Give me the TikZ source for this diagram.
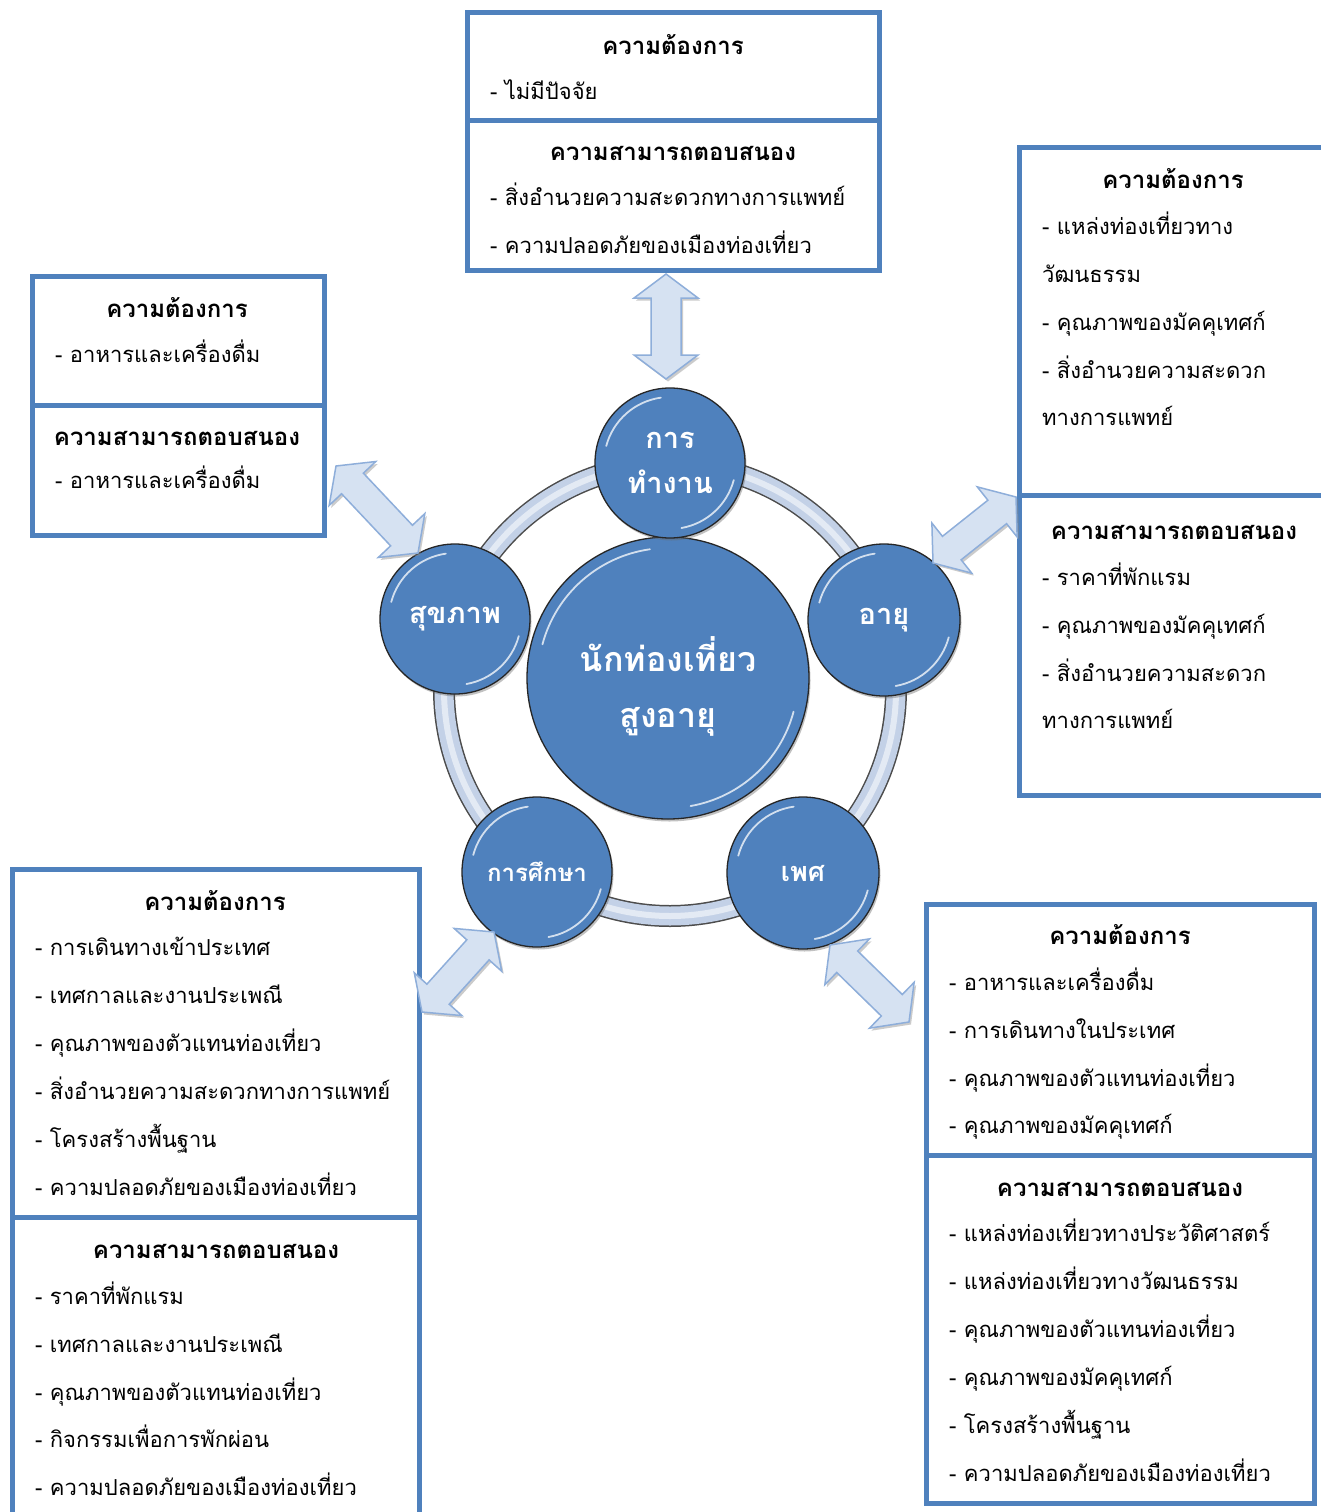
\documentclass[tikz,border=0pt]{standalone}
\usepackage{fontspec}
\newfontfamily\thaifont[Script=Thai]{Loma}
\usetikzlibrary{calc}
\definecolor{boxblue}{HTML}{4F81BD}
\definecolor{circblue}{HTML}{4F81BD}
\definecolor{arrowfill}{HTML}{D6E2F2}
\definecolor{arrowedge}{HTML}{8EAEDA}
\definecolor{ringfill}{HTML}{C3D1E7}
\newcommand\ahl{24pt}
\newcommand\ahw{32pt}
\newcommand\asw{15pt}
\newcommand\dblarrow[2]{%
  \coordinate (#1p) at ($(#1)!\ahl!(#2)$);
  \coordinate (#2p) at ($(#2)!\ahl!(#1)$);
  \draw[blockarrow] (#1)
    -- ($(#1p)!\ahw!90:(#2)$) -- ($(#1p)!\asw!90:(#2)$)
    -- ($(#2p)!\asw!-90:(#1)$) -- ($(#2p)!\ahw!-90:(#1)$)
    -- (#2)
    -- ($(#2p)!\ahw!90:(#1)$) -- ($(#2p)!\asw!90:(#1)$)
    -- ($(#1p)!\asw!-90:(#2)$) -- ($(#1p)!\ahw!-90:(#2)$)
    -- cycle;}
\newcommand\gloss[2]{%
  \draw[glossarc] ($(#1.center)+(195:#2)$) arc[start angle=195, end angle=262, radius=#2];
  \draw[glossarc] ($(#1.center)+(15:#2)$) arc[start angle=15, end angle=80, radius=#2];}
\begin{document}
\begin{tikzpicture}[x=1pt,y=-1pt,
  box/.style={draw=boxblue, line width=5pt, rectangle, inner sep=0pt, fill=white},
  title/.style={font=\thaifont\fontsize{24}{28}\selectfont\bfseries, anchor=mid, inner sep=0pt, yshift=-5pt},
  item/.style={font=\thaifont\fontsize{22}{26}\selectfont, anchor=mid west, inner sep=0pt, yshift=-5pt},
  bubble/.style={circle, fill=circblue, draw=black!85, line width=1.3pt, text=white, inner sep=0pt, align=center,
    preaction={fill=black!60, opacity=.4, transform canvas={xshift=1.5pt,yshift=-2.5pt}}},
  glossarc/.style={draw=white, opacity=.75, line width=1.8pt, line cap=round},
  blockarrow/.style={draw=arrowedge, line width=1.5pt, fill=arrowfill, line join=miter,
    preaction={fill=black!45, opacity=.45, transform canvas={xshift=2pt,yshift=-2.5pt}}}]
\useasboundingbox (0,0) rectangle (1321,1512);
\clip (0,0) rectangle (1321,1512);
\fill[white] (0,0) rectangle (1321,1512);

% ---------- ring ----------
\draw[line width=22pt, black!70] (670,690) circle[radius=226];
\draw[line width=19pt, ringfill] (670,690) circle[radius=226];
\draw[line width=6pt, white, opacity=.55] (670,690) circle[radius=226];

% ---------- circles ----------
\node[bubble, minimum size=282pt] (center) at (668,678) {};
\node[text=white, align=center, inner sep=0pt, font=\thaifont\fontsize{34}{56}\selectfont\bfseries] (centerT) at (668,686) {นักท่องเที่ยว\\สูงอายุ};
\node[bubble, minimum size=150pt, font=\thaifont\fontsize{29}{45}\selectfont\bfseries] (work) at (670,463) {การ\\ทำงาน};
\node[bubble, minimum size=152pt, font=\thaifont\fontsize{29}{40}\selectfont\bfseries] (age) at (884,620) {อายุ};
\node[bubble, minimum size=152pt, font=\thaifont\fontsize{27}{40}\selectfont\bfseries] (sex) at (803,873) {เพศ};
\node[bubble, minimum size=150pt, font=\thaifont\fontsize{24}{40}\selectfont\bfseries] (edu) at (537,872) {การศึกษา};
\node[bubble, minimum size=150pt, font=\thaifont\fontsize{29}{40}\selectfont\bfseries] (health) at (455,619) {สุขภาพ};
\gloss{center}{130}
\gloss{work}{66}
\gloss{age}{67}
\gloss{sex}{67}
\gloss{edu}{66}
\gloss{health}{66}

% ---------- top box ----------
\node[box, minimum width=412pt, minimum height=107pt] (topneed) at (673,66.5) {};
\node[box, minimum width=412pt, minimum height=150pt] (topresp) at (673,195) {};
\node[title] (topneedT) at (673,47) {ความต้องการ};
\node[item] (topneed1) at (490,92) {- ไม่มีปัจจัย};
\node[title] (toprespT) at (673,153) {ความสามารถตอบสนอง};
\node[item] (topresp1) at (490,198) {- สิ่งอำนวยความสะดวกทางการแพทย์};
\node[item] (topresp2) at (490,246) {- ความปลอดภัยของเมืองท่องเที่ยว};

% ---------- right top box ----------
\node[box, minimum width=321pt, minimum height=348pt] (rneed) at (1179.5,321) {};
\node[box, minimum width=321pt, minimum height=300pt] (rresp) at (1179.5,645) {};
\node[title] (rneedT) at (1173,181) {ความต้องการ};
\node[item] (rneed1) at (1042,227) {- แหล่งท่องเที่ยวทาง};
\node[item] (rneed2) at (1042,275) {วัฒนธรรม};
\node[item] (rneed3) at (1042,323) {- คุณภาพของมัคคุเทศก์};
\node[item] (rneed4) at (1042,371) {- สิ่งอำนวยความสะดวก};
\node[item] (rneed5) at (1042,418) {ทางการแพทย์};
\node[title] (rrespT) at (1174,532) {ความสามารถตอบสนอง};
\node[item] (rresp1) at (1042,578) {- ราคาที่พักแรม};
\node[item] (rresp2) at (1042,626) {- คุณภาพของมัคคุเทศก์};
\node[item] (rresp3) at (1042,674) {- สิ่งอำนวยความสะดวก};
\node[item] (rresp4) at (1042,721) {ทางการแพทย์};

% ---------- left top box ----------
\node[box, minimum width=292pt, minimum height=129pt] (lneed) at (178,340.5) {};
\node[box, minimum width=292pt, minimum height=130pt] (lresp) at (178,470) {};
\node[title] (lneedT) at (177,310) {ความต้องการ};
\node[item] (lneed1) at (55,355) {- อาหารและเครื่องดื่ม};
\node[title] (lrespT) at (177,438) {ความสามารถตอบสนอง};
\node[item] (lresp1) at (55,481) {- อาหารและเครื่องดื่ม};

% ---------- left bottom box ----------
\node[box, minimum width=407pt, minimum height=348pt] (lbneed) at (215.5,1043) {};
\node[box, minimum width=407pt, minimum height=313pt] (lbresp) at (215.5,1373.5) {};
\node[title] (lbneedT) at (215,903) {ความต้องการ};
\node[item] (lbneed1) at (35,948) {- การเดินทางเข้าประเทศ};
\node[item] (lbneed2) at (35,996) {- เทศกาลและงานประเพณี};
\node[item] (lbneed3) at (35,1044) {- คุณภาพของตัวแทนท่องเที่ยว};
\node[item] (lbneed4) at (35,1092) {- สิ่งอำนวยความสะดวกทางการแพทย์};
\node[item] (lbneed5) at (35,1140) {- โครงสร้างพื้นฐาน};
\node[item] (lbneed6) at (35,1188) {- ความปลอดภัยของเมืองท่องเที่ยว};
\node[title] (lbrespT) at (216,1251) {ความสามารถตอบสนอง};
\node[item] (lbresp1) at (35,1297) {- ราคาที่พักแรม};
\node[item] (lbresp2) at (35,1345) {- เทศกาลและงานประเพณี};
\node[item] (lbresp3) at (35,1393) {- คุณภาพของตัวแทนท่องเที่ยว};
\node[item] (lbresp4) at (35,1440) {- กิจกรรมเพื่อการพักผ่อน};
\node[item] (lbresp5) at (35,1488) {- ความปลอดภัยของเมืองท่องเที่ยว};

% ---------- right bottom box ----------
\node[box, minimum width=388pt, minimum height=251pt] (rbneed) at (1120,1029.5) {};
\node[box, minimum width=388pt, minimum height=348pt] (rbresp) at (1120,1329) {};
\node[title] (rbneedT) at (1120,937) {ความต้องการ};
\node[item] (rbneed1) at (949,983) {- อาหารและเครื่องดื่ม};
\node[item] (rbneed2) at (949,1031) {- การเดินทางในประเทศ};
\node[item] (rbneed3) at (949,1079) {- คุณภาพของตัวแทนท่องเที่ยว};
\node[item] (rbneed4) at (949,1126) {- คุณภาพของมัคคุเทศก์};
\node[title] (rbrespT) at (1120,1189) {ความสามารถตอบสนอง};
\node[item] (rbresp1) at (949,1234) {- แหล่งท่องเที่ยวทางประวัติศาสตร์};
\node[item] (rbresp2) at (949,1282) {- แหล่งท่องเที่ยวทางวัฒนธรรม};
\node[item] (rbresp3) at (949,1330) {- คุณภาพของตัวแทนท่องเที่ยว};
\node[item] (rbresp4) at (949,1378) {- คุณภาพของมัคคุเทศก์};
\node[item] (rbresp5) at (949,1426) {- โครงสร้างพื้นฐาน};
\node[item] (rbresp6) at (949,1474) {- ความปลอดภัยของเมืองท่องเที่ยว};

% ---------- double arrows ----------
\coordinate (aTa) at (666,274);
\coordinate (aTb) at (666,379);
\coordinate (aLa) at (336,466);
\coordinate (aLb) at (418,553);
\coordinate (aRa) at (933,563);
\coordinate (aRb) at (1016,497);
\coordinate (aBLa) at (422,1012);
\coordinate (aBLb) at (494,932);
\coordinate (aBRa) at (830,945);
\coordinate (aBRb) at (909,1022);
\dblarrow{aTa}{aTb}
\dblarrow{aLa}{aLb}
\dblarrow{aRa}{aRb}
\dblarrow{aBLa}{aBLb}
\dblarrow{aBRa}{aBRb}
\end{tikzpicture}
\end{document}
